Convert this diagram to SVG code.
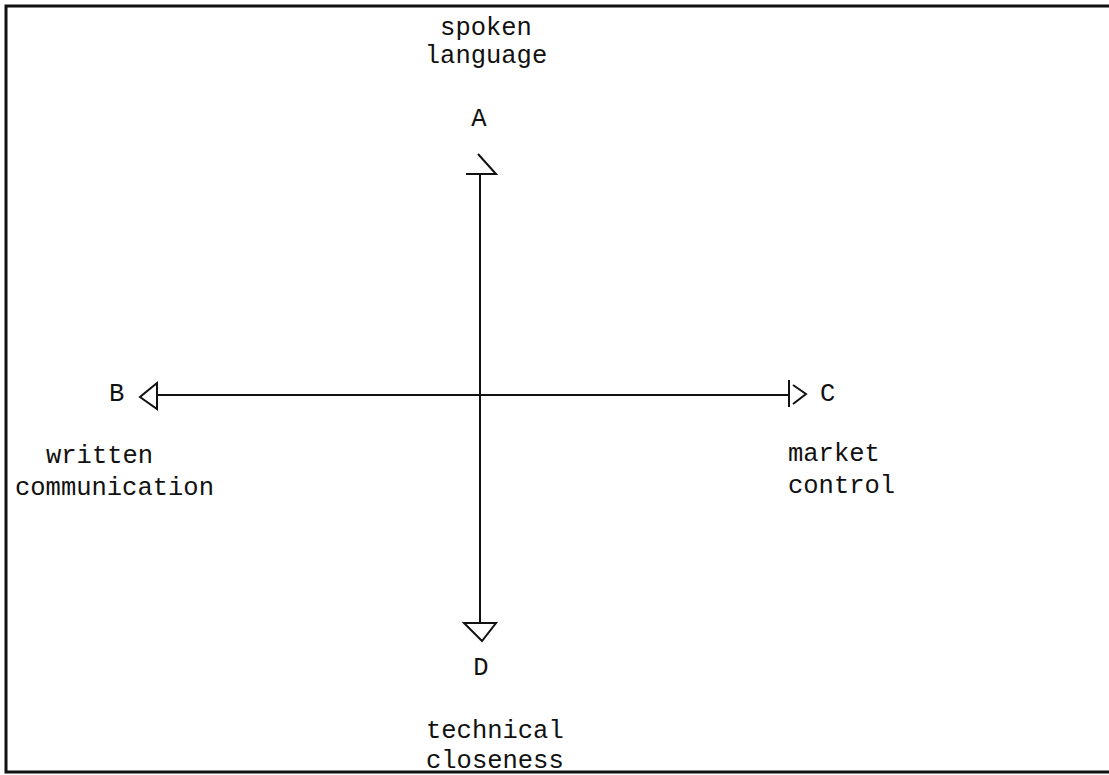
<svg xmlns="http://www.w3.org/2000/svg" width="1109" height="775" viewBox="0 0 1109 775">
<style>
.t{font-family:"Liberation Mono","Courier New",monospace;font-size:25.5px;fill:#111}
.m{text-anchor:middle}
.ln{stroke:#111;stroke-width:2;fill:none}
</style>
<rect width="1109" height="775" fill="#fff"/>
<g id="frame"><path d="M1109,6 H6 V772 H1109" fill="none" stroke="#111" stroke-width="3"/></g>
<g id="connectors">
<line class="ln" x1="480" y1="174" x2="480" y2="623"/>
<line class="ln" x1="157" y1="395" x2="789" y2="395"/>
<path class="ln" d="M466,174 H496 L478,154"/>
<path class="ln" d="M157,383 L140,397 L157,409 Z"/>
<path class="ln" d="M789,380 V407 M793,385 L806,394 L793,404"/>
<path class="ln" d="M464,623 H496 L482,641 Z"/>
</g>
<g id="nodeA"><text class="t m" x="486" y="35">spoken</text><text class="t m" x="486" y="63">language</text><text class="t m" x="479" y="126">A</text></g>
<g id="nodeB"><text class="t" x="109" y="401">B</text><text class="t" x="46" y="463">written</text><text class="t" x="15" y="495">communication</text></g>
<g id="nodeC"><text class="t" x="820" y="401">C</text><text class="t" x="788" y="461">market</text><text class="t" x="788" y="493">control</text></g>
<g id="nodeD"><text class="t m" x="481" y="675">D</text><text class="t" x="426" y="738">technical</text><text class="t" x="426" y="768">closeness</text></g>
</svg>
